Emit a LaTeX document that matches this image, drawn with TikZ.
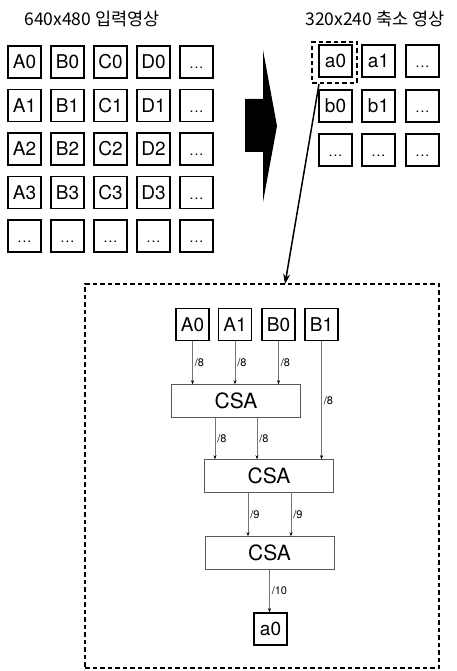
\documentclass[tikz,border=0pt]{standalone}
\usepackage{fontspec}
\setmainfont{TeX Gyre Heros}
\newfontfamily\kr{Noto Sans CJK KR}
\usetikzlibrary{arrows.meta,calc}
\newcommand\dotsx{{\fontsize{14}{14}\selectfont .\kern1pt.\kern1pt.}}
\begin{document}
\begin{tikzpicture}[x=1pt,y=-1pt,
 cell/.style={draw, line width=1.6pt, minimum width=33pt, minimum height=32pt, inner sep=0pt,
   font=\fontsize{19}{19}\selectfont, text height=13.5pt, text depth=0pt},
 csa/.style={draw=black!65, line width=0.6pt, minimum width=129pt, minimum height=33pt, inner sep=0pt,
   font=\fontsize{21}{21}\selectfont},
 wire/.style={draw=black!55, line width=0.5pt, -{Stealth[length=4pt,width=3pt,black]}},
 bw/.style={font=\fontsize{11}{11}\selectfont, anchor=west, inner sep=1pt, xshift=1pt},
 ttl/.style={font=\kr\fontsize{17.5}{17.5}\selectfont, inner sep=0pt},
 dbox/.style={draw, line width=2pt, dash pattern=on 4.5pt off 3pt, inner sep=0pt}
]
\useasboundingbox (0,0) rectangle (457,671);

% titles
\node[ttl] (t1) at (92,19) {640x480 입력영상};
\node[ttl] (t2) at (375,19) {320x240 축소 영상};

% left grid
\foreach \r/\y in {0/62,1/105.5,2/149,3/192.5} {
  \foreach \l/\x in {A/24.5,B/67.5,C/110.5,D/153.5}
    \node[cell] (\l\r) at (\x,\y) {\l\r};
  \node[cell] (E\r) at (196.5,\y) {\dotsx};
}
\foreach \l/\x in {A/24.5,B/67.5,C/110.5,D/153.5,E/196.5}
  \node[cell] (\l4) at (\x,236) {\dotsx};

% big arrow
\fill (245,99) -- (263,99) -- (263,50) -- (277,126) -- (263,202) -- (263,152) -- (245,152) -- cycle;

% right grid
\node[cell] (ra0) at (335.5,61) {a0};
\node[cell] (ra1) at (378.5,61) {a1};
\node[cell] (ra2) at (422.5,61) {\dotsx};
\node[cell] (rb0) at (335.5,106) {b0};
\node[cell] (rb1) at (378.5,106) {b1};
\node[cell] (rb2) at (422.5,106) {\dotsx};
\node[cell] (rc0) at (335.5,150) {\dotsx};
\node[cell] (rc1) at (378.5,150) {\dotsx};
\node[cell] (rc2) at (422.5,150) {\dotsx};

% selection and detail boxes
\node[dbox, minimum width=45pt, minimum height=41pt] (sel) at (334.5,62.5) {};
\node[dbox, minimum width=354pt, minimum height=384pt] (big) at (262,476) {};
\draw[line width=1.5pt, -{Stealth[length=10pt,width=7pt]}]
  ([xshift=8pt]sel.south west) -- ([xshift=23pt,yshift=-1pt]big.north);

% inner diagram
\node[cell] (iA0) at (192.5,324.5) {A0};
\node[cell] (iA1) at (235,324.5) {A1};
\node[cell] (iB0) at (278.5,324.5) {B0};
\node[cell] (iB1) at (321.5,324.5) {B1};
\node[csa] (csa1) at (236,401) {CSA};
\node[csa] (csa2) at (269,476) {CSA};
\node[csa] (csa3) at (269.5,553) {CSA};
\node[cell] (out) at (270.5,629) {a0};

\draw[wire] (iA0.south) -- node[bw]{/8} (iA0.south |- csa1.north);
\draw[wire] (iA1.south) -- node[bw]{/8} (iA1.south |- csa1.north);
\draw[wire] (iB0.south) -- node[bw]{/8} (iB0.south |- csa1.north);
\draw[wire] (iB1.south) -- node[bw]{/8} (iB1.south |- csa2.north);
\draw[wire] ([xshift=-21pt]csa1.south) -- node[bw]{/8} ([xshift=-21pt]csa1.south |- csa2.north);
\draw[wire] ([xshift=21pt]csa1.south) -- node[bw]{/8} ([xshift=21pt]csa1.south |- csa2.north);
\draw[wire] ([xshift=-21pt]csa2.south) -- node[bw]{/9} ([xshift=-21pt]csa2.south |- csa3.north);
\draw[wire] ([xshift=22pt]csa2.south) -- node[bw]{/9} ([xshift=22pt]csa2.south |- csa3.north);
\draw[wire] (csa3.south) -- node[bw]{/10} (csa3.south |- out.north);
\end{tikzpicture}
\end{document}
